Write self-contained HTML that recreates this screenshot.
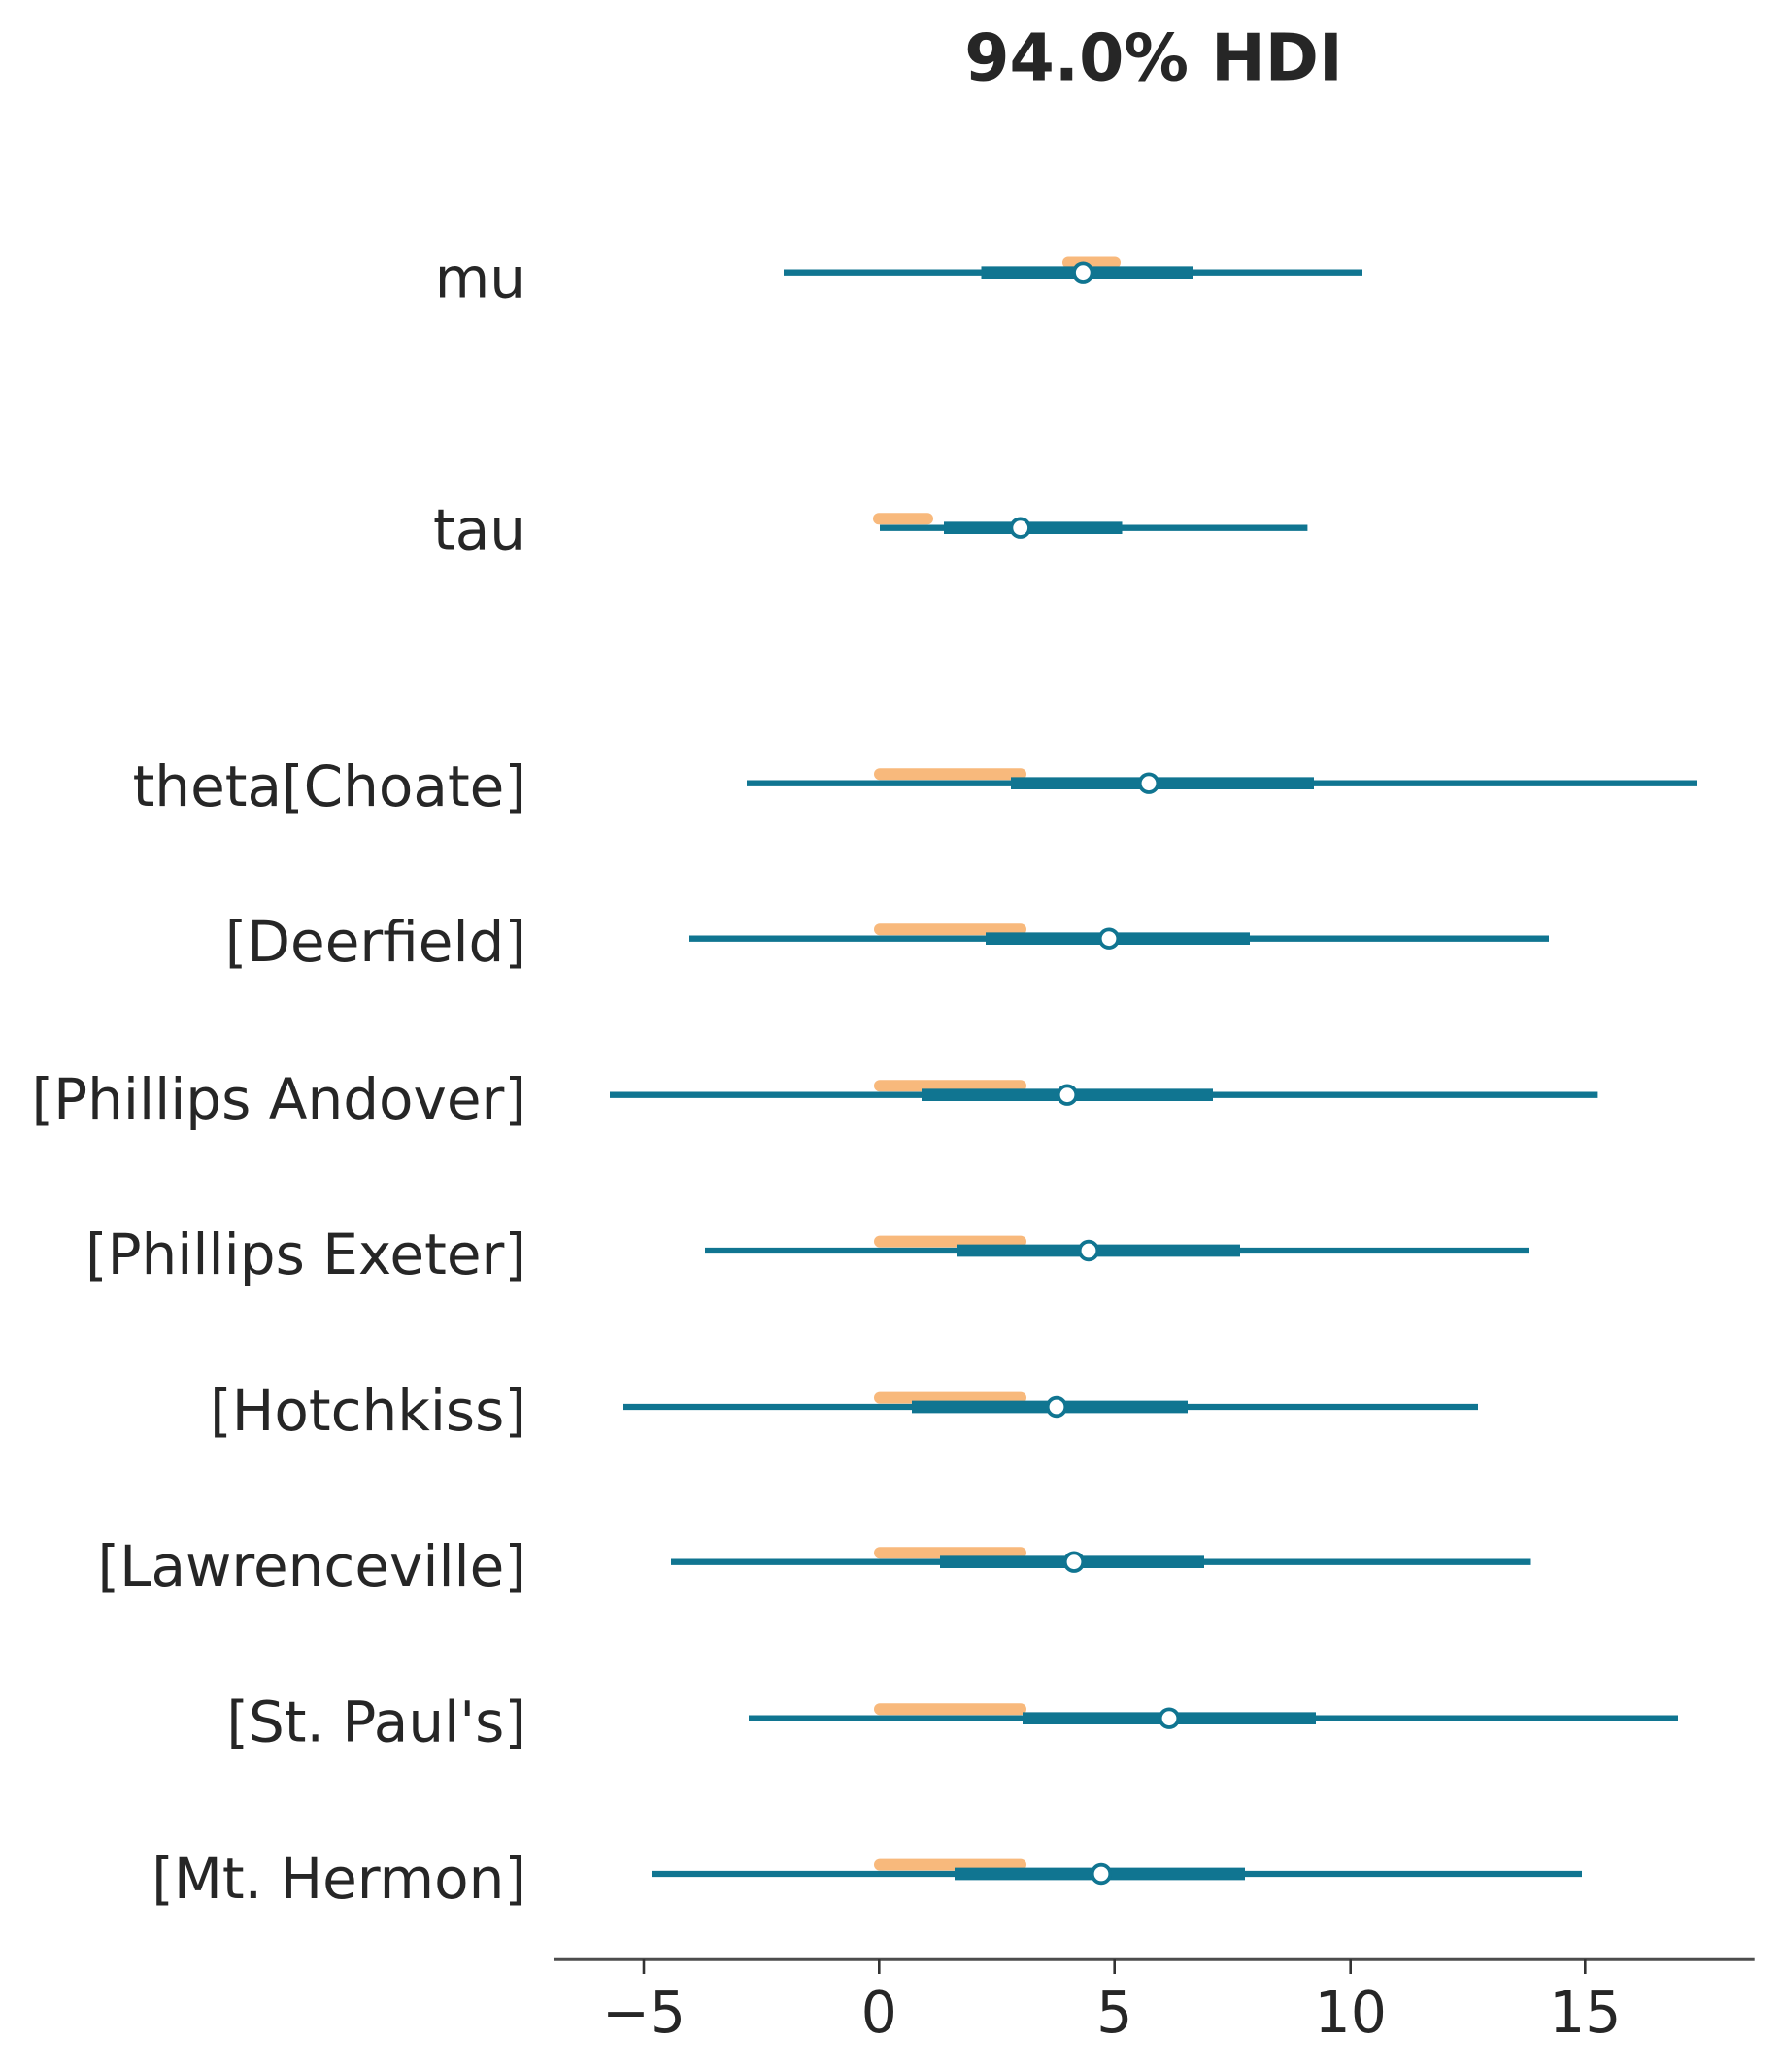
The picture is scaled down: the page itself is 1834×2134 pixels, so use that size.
<!DOCTYPE html>
<html>
<head>
<meta charset="utf-8">
<style>
  html, body { margin: 0; padding: 0; background: #ffffff; }
  svg { display: block; }
  text { font-family: "DejaVu Sans", "Liberation Sans", sans-serif; fill: #262626; }
</style>
</head>
<body>
<svg width="1834" height="2134" viewBox="0 0 1834 2134" xmlns="http://www.w3.org/2000/svg">
  <rect x="0" y="0" width="1834" height="2134" fill="#ffffff"/>

  <!-- Title -->
  <text x="1188" y="82.7" font-size="66.5" font-weight="bold" text-anchor="middle">94.0% HDI</text>

  <!-- Y labels -->
  <g font-size="58" text-anchor="end">
    <text x="541" y="306.5">mu</text>
    <text x="541" y="565.5">tau</text>
    <text x="542" y="830">theta[Choate]</text>
    <text x="542" y="990">[Deerfield]</text>
    <text x="542" y="1152">[Phillips Andover]</text>
    <text x="542" y="1312">[Phillips Exeter]</text>
    <text x="542" y="1473">[Hotchkiss]</text>
    <text x="542" y="1633">[Lawrenceville]</text>
    <text x="542" y="1793.5">[St. Paul's]</text>
    <text x="542" y="1955">[Mt. Hermon]</text>
  </g>

  <!-- Orange series -->
  <g stroke="#f8b97c" stroke-width="12" stroke-linecap="round" fill="none">
    <line x1="1100" y1="270.5" x2="1148" y2="270.5"/>
    <line x1="905" y1="534.3" x2="955" y2="534.3"/>
    <line x1="906" y1="797.3" x2="1051" y2="797.3"/>
    <line x1="906" y1="957.3" x2="1051" y2="957.3"/>
    <line x1="906" y1="1118.3" x2="1051" y2="1118.3"/>
    <line x1="906" y1="1278.6" x2="1051" y2="1278.6"/>
    <line x1="906" y1="1439.6" x2="1051" y2="1439.6"/>
    <line x1="906" y1="1599.3" x2="1051" y2="1599.3"/>
    <line x1="906" y1="1760.3" x2="1051" y2="1760.3"/>
    <line x1="906" y1="1920.6" x2="1051" y2="1920.6"/>
  </g>

  <!-- Blue thin lines -->
  <g stroke="#107591" stroke-width="6.3" fill="none">
    <line x1="807" y1="280.7" x2="1403" y2="280.7"/>
    <line x1="906" y1="543.7" x2="1346.4" y2="543.7"/>
    <line x1="769" y1="806.7" x2="1748" y2="806.7"/>
    <line x1="709.4" y1="966.7" x2="1595" y2="966.7"/>
    <line x1="628" y1="1127.7" x2="1645.4" y2="1127.7"/>
    <line x1="726" y1="1288" x2="1574" y2="1288"/>
    <line x1="642" y1="1449" x2="1522" y2="1449"/>
    <line x1="691" y1="1608.7" x2="1576.5" y2="1608.7"/>
    <line x1="771" y1="1769.7" x2="1728" y2="1769.7"/>
    <line x1="671" y1="1930" x2="1629" y2="1930"/>
  </g>

  <!-- Blue thick lines -->
  <g stroke="#107591" stroke-width="12.7" fill="none">
    <line x1="1010.5" y1="280.7" x2="1228" y2="280.7"/>
    <line x1="972" y1="543.7" x2="1155.5" y2="543.7"/>
    <line x1="1041" y1="806.7" x2="1353" y2="806.7"/>
    <line x1="1015" y1="966.7" x2="1287" y2="966.7"/>
    <line x1="949" y1="1127.7" x2="1249" y2="1127.7"/>
    <line x1="985" y1="1288" x2="1277" y2="1288"/>
    <line x1="939" y1="1449" x2="1223" y2="1449"/>
    <line x1="968" y1="1608.7" x2="1240" y2="1608.7"/>
    <line x1="1053" y1="1769.7" x2="1355" y2="1769.7"/>
    <line x1="983" y1="1930" x2="1282" y2="1930"/>
  </g>

  <!-- Point estimates -->
  <g fill="#ffffff" stroke="#107591" stroke-width="3.8">
    <circle cx="1115.3" cy="280.7" r="9.3"/>
    <circle cx="1050.7" cy="543.7" r="9.3"/>
    <circle cx="1183" cy="806.7" r="9.3"/>
    <circle cx="1142" cy="966.7" r="9.3"/>
    <circle cx="1099" cy="1127.7" r="9.3"/>
    <circle cx="1121" cy="1288" r="9.3"/>
    <circle cx="1088" cy="1449" r="9.3"/>
    <circle cx="1106" cy="1608.7" r="9.3"/>
    <circle cx="1204" cy="1769.7" r="9.3"/>
    <circle cx="1134" cy="1930" r="9.3"/>
  </g>

  <!-- X axis -->
  <line x1="570.7" y1="2018.3" x2="1806.7" y2="2018.3" stroke="#4d4d4d" stroke-width="3"/>
  <g stroke="#333333" stroke-width="2.6">
    <line x1="663" y1="2018" x2="663" y2="2033"/>
    <line x1="905.3" y1="2018" x2="905.3" y2="2033"/>
    <line x1="1147.7" y1="2018" x2="1147.7" y2="2033"/>
    <line x1="1390.7" y1="2018" x2="1390.7" y2="2033"/>
    <line x1="1632.3" y1="2018" x2="1632.3" y2="2033"/>
  </g>
  <g font-size="58.5" text-anchor="middle">
    <text x="663" y="2093">−5</text>
    <text x="905.3" y="2093">0</text>
    <text x="1147.7" y="2093">5</text>
    <text x="1390.7" y="2093">10</text>
    <text x="1632.3" y="2093">15</text>
  </g>
</svg>
</body>
</html>
